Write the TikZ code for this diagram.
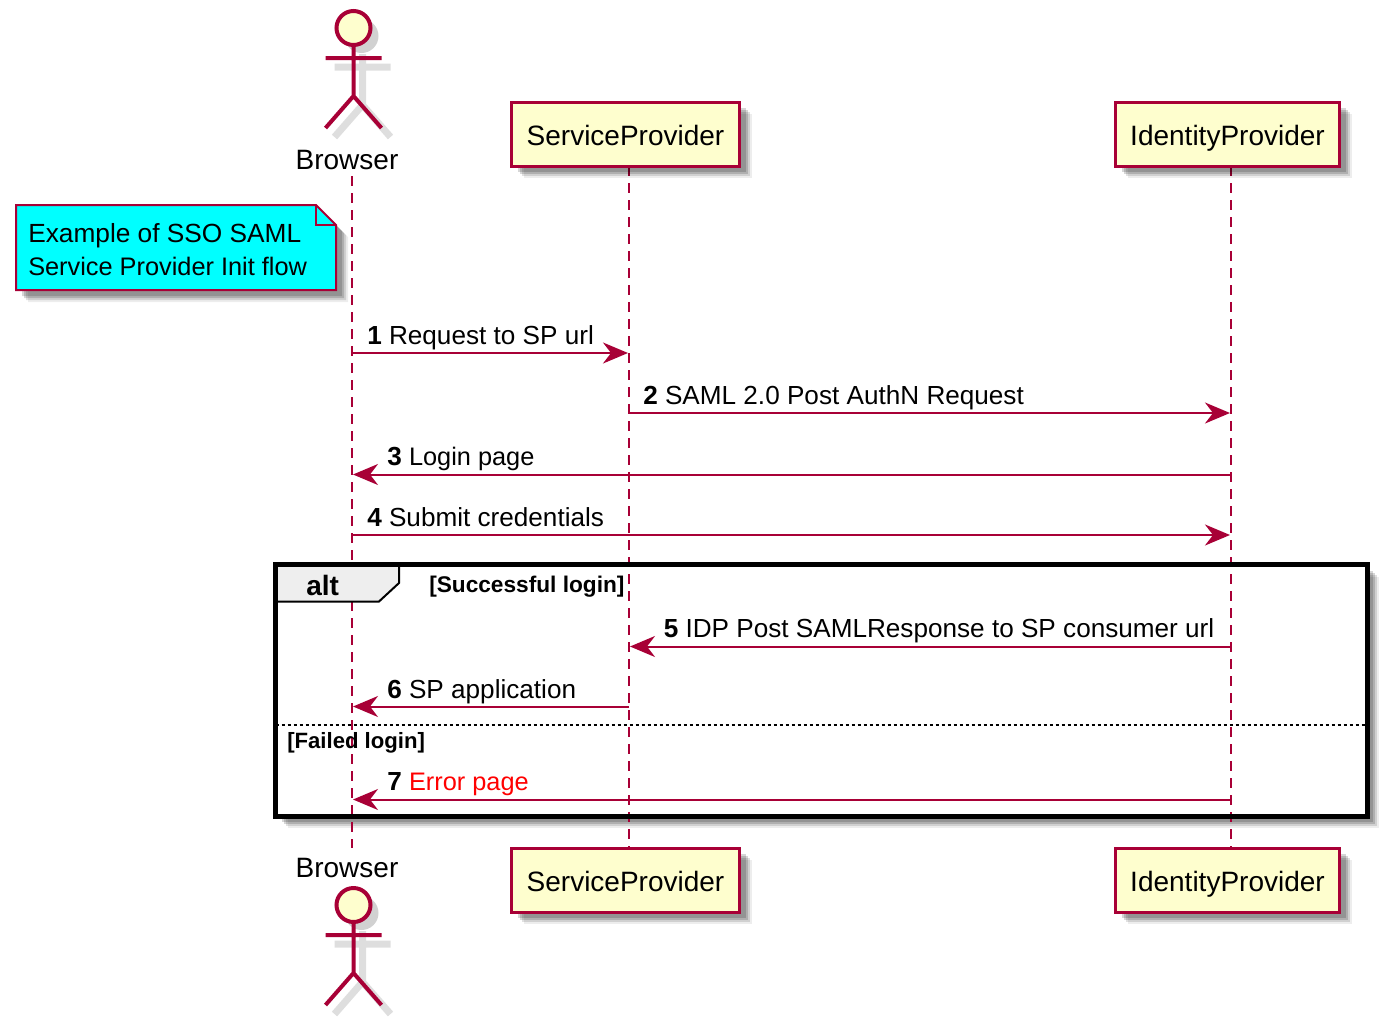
\documentclass[tikz,border=0pt]{standalone}
\usepackage{fontspec}
\setmainfont{Liberation Sans}
\usetikzlibrary{positioning,shapes,shadows,arrows.meta}
\usepackage{xcolor}
\definecolor{umlred}{HTML}{A80036}
\definecolor{umlfill}{HTML}{FEFECE}
\definecolor{umltab}{HTML}{EEEEEE}
\definecolor{umlnote}{HTML}{00FFFF}
\def\px{0.75pt}
\begin{document}
\begin{tikzpicture}
[x=\px, y=-\px,
softshadow/.style={drop shadow={shadow xshift=12*\px, shadow yshift=-12*\px, fill=black, opacity=.07},
  drop shadow={shadow xshift=10*\px, shadow yshift=-10*\px, fill=black, opacity=.12},
  drop shadow={shadow xshift=8*\px, shadow yshift=-8*\px, fill=black, opacity=.16},
  drop shadow={shadow xshift=6*\px, shadow yshift=-6*\px, fill=black, opacity=.16}},
% The party style is used to draw the participants' boxes
party/.style={rectangle, draw=umlred, line width=3*\px, fill=umlfill, minimum width=#1*\px, minimum height=64*\px, inner sep=0pt, text height=20.5pt, text depth=3.5pt, font=\fontsize{21}{25}\selectfont, softshadow},
actorname/.style={inner sep=0pt, anchor=base, font=\fontsize{21}{25}\selectfont},
lifeline/.style={umlred, line width=2*\px, dash pattern=on 10*\px off 7*\px},
msg/.style={umlred, line width=2*\px, -{Stealth[length=25*\px, width=21*\px, inset=8*\px]}, shorten >=1*\px},
msglabel/.style={inner sep=0pt, anchor=base west, font=\fontsize{19.6}{24}\selectfont},
notelabel/.style={inner sep=0pt, anchor=base west, font=\fontsize{#1}{24}\selectfont},
guard/.style={inner sep=0pt, anchor=base west, font=\bfseries\fontsize{#1}{20}\selectfont},
actorfig/.pic={
  \draw[black!13, line width=7*\px] (-19,39) -- (37,39) (9,26) -- (9,77) -- (-19,109) (9,77) -- (37,109);
  \fill[black!18] (8,8) circle (17*\px);
  \filldraw[draw=umlred, fill=umlfill, line width=4*\px] (0,0) circle (17*\px);
  \draw[umlred, line width=4*\px] (-28,30) -- (28,30) (0,17) -- (0,68) -- (-28,100) (0,68) -- (28,100);
}
]
\useasboundingbox (0,0) rectangle (1389,1025);
% Draw alt background
\node [rectangle, fill=white, minimum width=1091*\px, minimum height=251*\px, inner sep=0pt, softshadow] (altback) at (821.5,690.5) {};

% Draw participants
\node [actorname] (browserTop) at (347,169) {Browser};
\node [actorname] (browserBot) at (347,877) {Browser};
\coordinate (browserTopEnd) at (352,176);
\coordinate (browserBotEnd) at (352,848);
\coordinate (spTopEnd) at (629,166);
\coordinate (spBotEnd) at (629,848);
\coordinate (idpTopEnd) at (1231,166);
\coordinate (idpBotEnd) at (1231,848);

% Draw lifelines
\draw[lifeline] (browserTopEnd) -- (browserBotEnd);
\draw[lifeline] (spTopEnd) -- (spBotEnd);
\draw[lifeline] (idpTopEnd) -- (idpBotEnd);

\pic at (353.5,28) {actorfig};
\pic at (353.5,905) {actorfig};
\node [party=228] (spTop) at (625.5,134) {ServiceProvider};
\node [party=224] (idpTop) at (1227.5,134) {IdentityProvider};
\node [party=228] (spBot) at (625.5,880) {ServiceProvider};
\node [party=224] (idpBot) at (1227.5,880) {IdentityProvider};

% Draw note
\filldraw[draw=umlred, fill=umlnote, line width=2*\px, softshadow] (16,205) -- (316,205) -- (336,225) -- (336,290) -- (16,290) -- cycle;
\draw[umlred, line width=2*\px] (316,205) -- (316,225) -- (336,225);
\node [notelabel=19.7] (noteOne) at (28,242) {Example of SSO SAML};
\node [notelabel=19] (noteTwo) at (28,275) {Service Provider Init flow};

% Draw messages
\foreach \n/\y in {1/353,2/413,3/474.5,4/535,5/646.5,6/706.5,7/799.5} {
  \coordinate (b\n) at (352,\y);
  \coordinate (s\n) at (629,\y);
  \coordinate (i\n) at (1231,\y);
}
\draw[msg] (b1) -- (s1);
\node [msglabel] (textOne) at ([shift={(15,-9)}]b1) {\textbf{1} Request to SP url};
\draw[msg] (s2) -- (i2);
\node [msglabel] (textTwo) at ([shift={(14,-9)}]s2) {\textbf{2} SAML 2.0 Post AuthN Request};
\draw[msg] (i3) -- (b3);
\node [msglabel] (textThree) at ([shift={(35,-9.5)}]b3) {\textbf{3} \fontsize{19}{24}\selectfont Login page};
\draw[msg] (b4) -- (i4);
\node [msglabel] (textFour) at ([shift={(15,-9)}]b4) {\textbf{4} Submit credentials};
\draw[msg] (i5) -- (s5);
\node [msglabel] (textFive) at ([shift={(34.5,-9.5)}]s5) {\textbf{5} IDP Post SAMLResponse to SP consumer url};
\draw[msg] (s6) -- (b6);
\node [msglabel] (textSix) at ([shift={(35,-8.5)}]b6) {\textbf{6} SP application};
\draw[msg] (i7) -- (b7);
\node [msglabel] (textSeven) at ([shift={(35,-9.5)}]b7) {\textbf{7} \fontsize{19}{24}\selectfont\textcolor{red}{Error page}};

% Draw alt frame
\filldraw[draw=black, fill=umltab, line width=2*\px] (altback.north west) -- (399,565) -- (399,583) -- (379,601.5) -- (276,601.5) -- cycle;
\draw[black, line width=4.5*\px] (altback.north west) rectangle (altback.south east);
\draw[black, line width=1.5*\px, dash pattern=on 3*\px off 3*\px] (altback.west |- 0,725) -- (altback.east |- 0,725);
\node [inner sep=0pt, anchor=base west, font=\bfseries\fontsize{21}{25}\selectfont] (altname) at (306,595) {alt};
\node [guard=17] (guardOk) at (429,592) {[Successful login]};
\node [guard=16.6] (guardFail) at (287,748) {[Failed login]};
\end{tikzpicture}
\end{document}
